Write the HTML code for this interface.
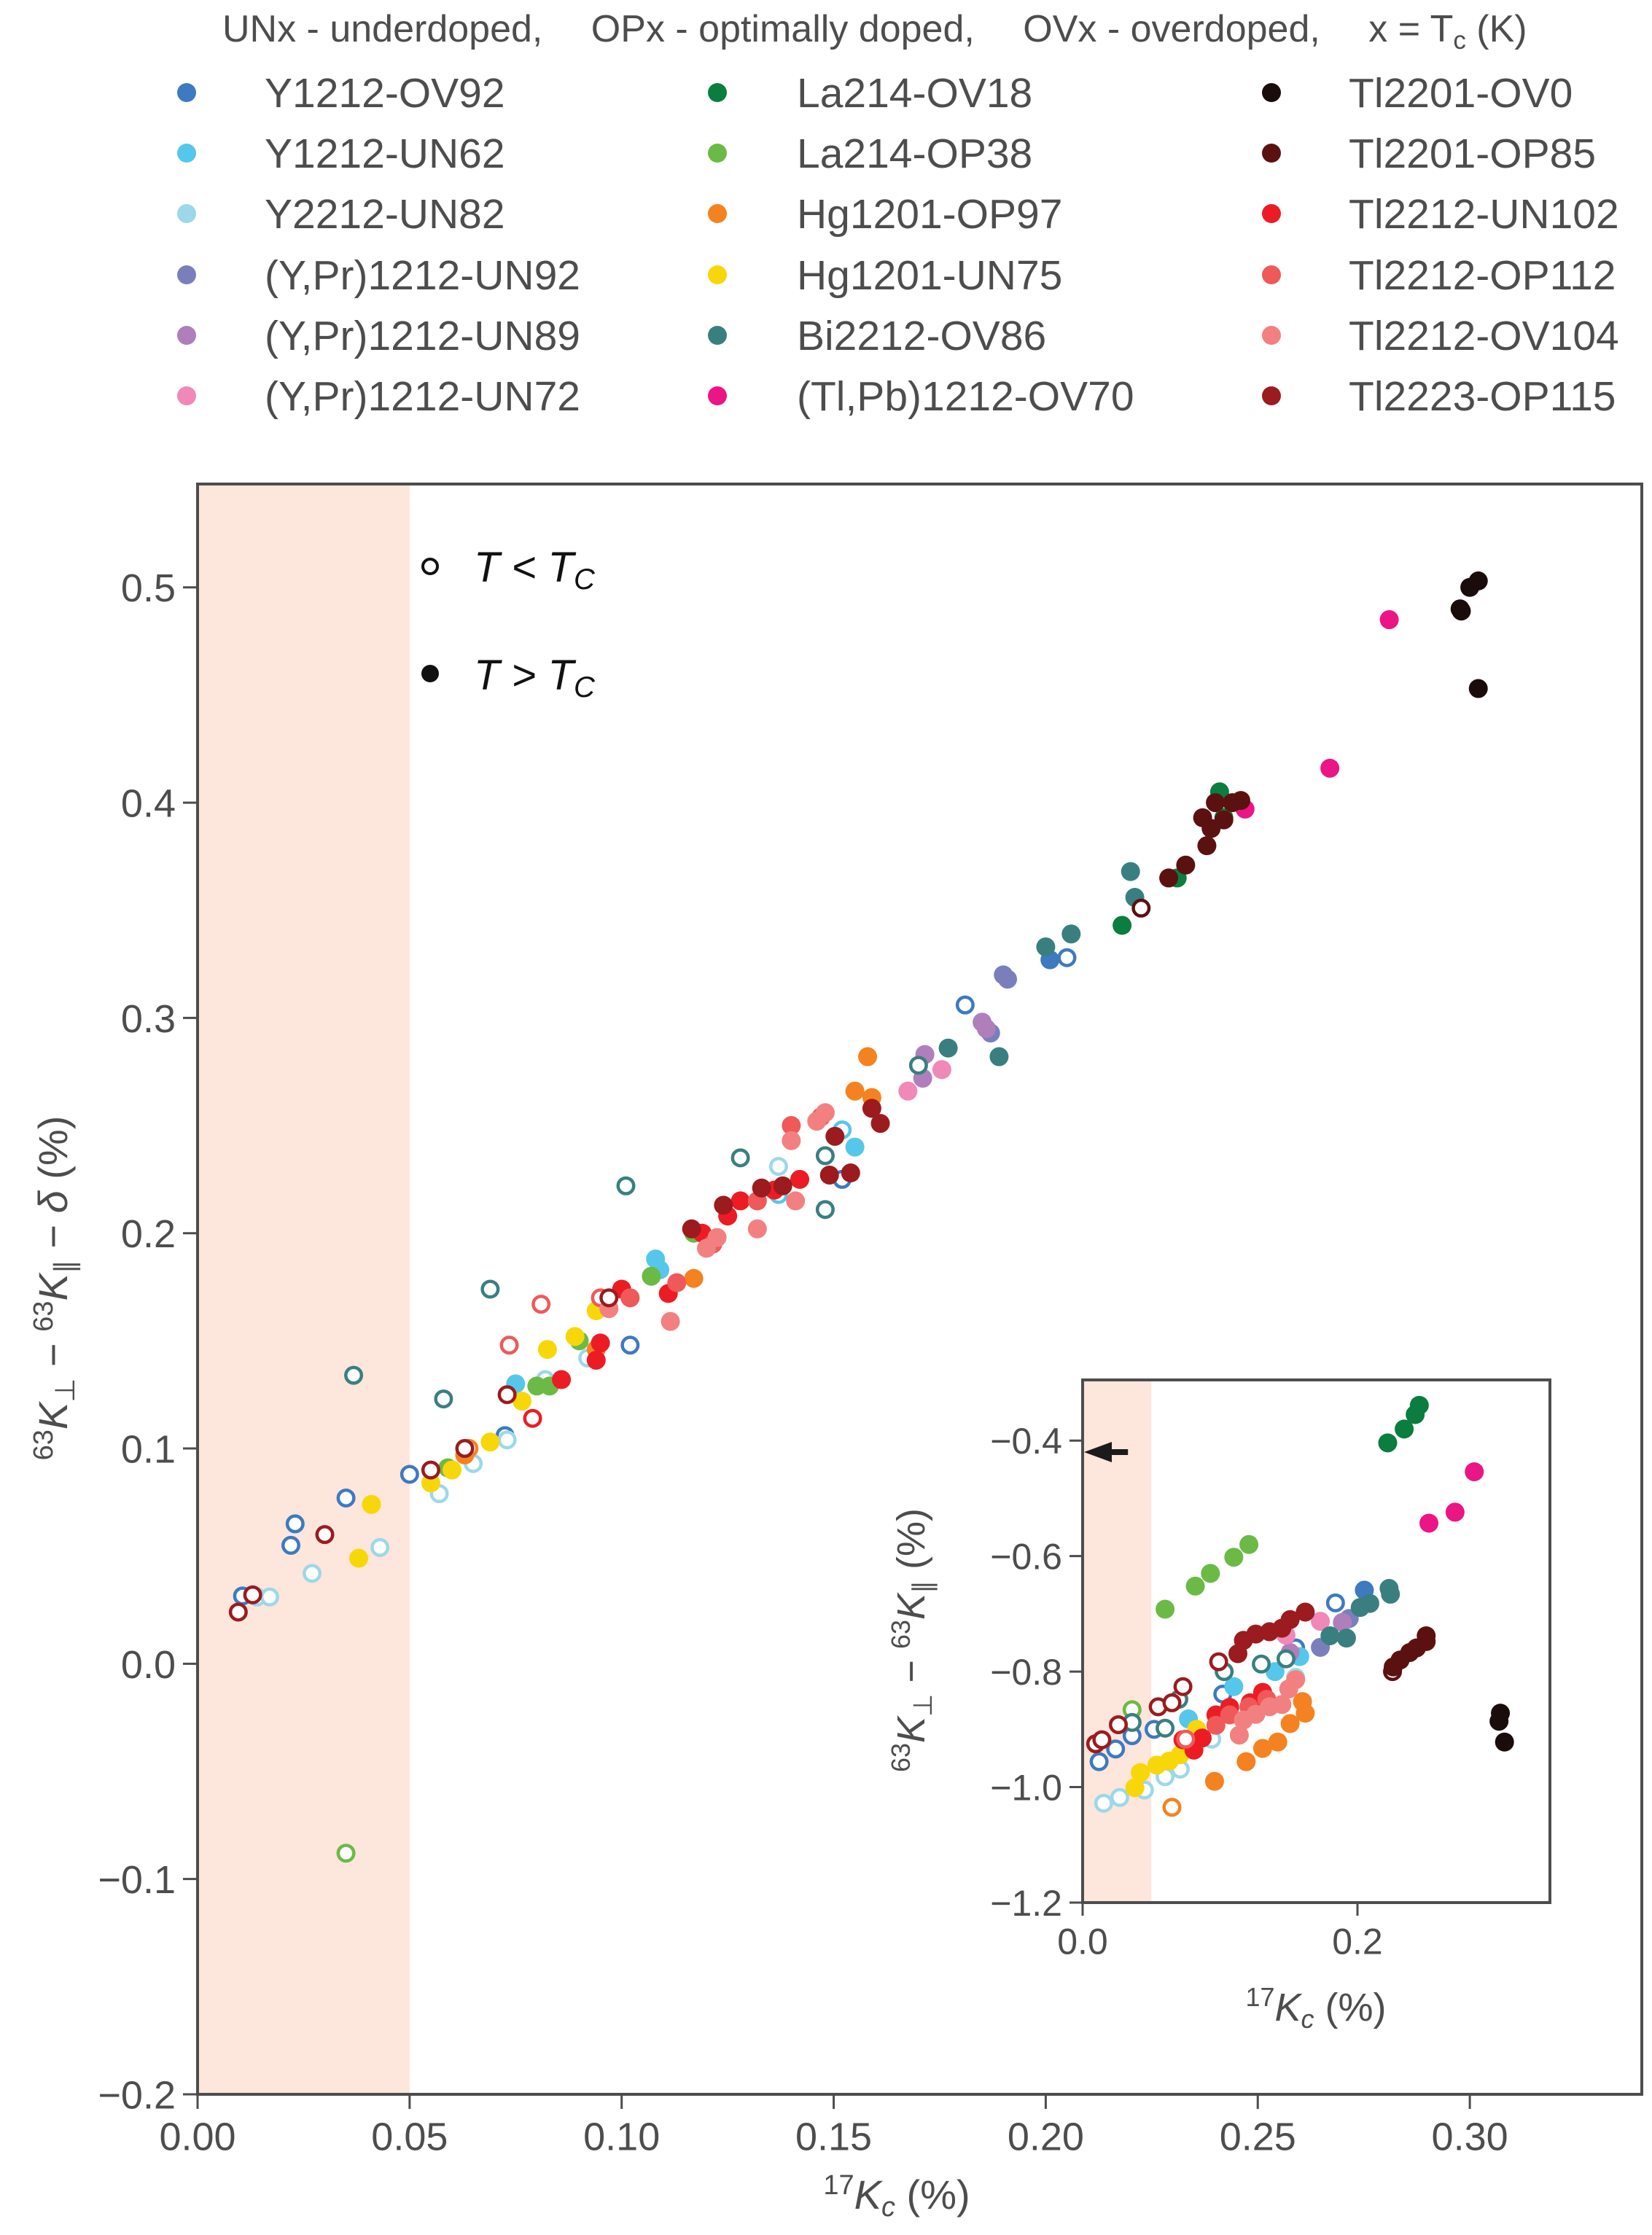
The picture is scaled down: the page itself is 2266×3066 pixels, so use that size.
<!DOCTYPE html>
<html><head><meta charset="utf-8"><style>
html,body{margin:0;padding:0;background:#fff}
svg{display:block;font-family:"Liberation Sans",sans-serif}
</style></head><body>
<svg id="chart" width="2266" height="3066" viewBox="0 0 2266 3066" xmlns="http://www.w3.org/2000/svg">
<g id="legend"></g>
<g id="main"></g>
<g id="inset"></g>
</svg>
<script>
const seriesNames=["Y1212-OV92","Y1212-UN62","Y2212-UN82","(Y,Pr)1212-UN92","(Y,Pr)1212-UN89","(Y,Pr)1212-UN72","La214-OV18","La214-OP38","Hg1201-OP97","Hg1201-UN75","Bi2212-OV86","(Tl,Pb)1212-OV70","Tl2201-OV0","Tl2201-OP85","Tl2212-UN102","Tl2212-OP112","Tl2212-OV104","Tl2223-OP115"];
const seriesColors=["#3d7ac0","#55c7ea","#9cd8e9","#7a7fbc","#ae7fbb","#f088b8","#0b7d3f","#6bba45","#f58220","#f7d70a","#3a7f7f","#eb1586","#1b0c0c","#5c1111","#ec1c24","#ef5959","#f38080","#9b1b1f"];
const mainXTicks=[0,0.05,0.10,0.15,0.20,0.25,0.30];
const mainXTickLabels=["0.00","0.05","0.10","0.15","0.20","0.25","0.30"];
const mainYTicks=[-0.2,-0.1,0,0.1,0.2,0.3,0.4,0.5];
const mainYTickLabels=["\u22120.2","\u22120.1","0.0","0.1","0.2","0.3","0.4","0.5"];
const insetXTicks=[0,0.2];
const insetXTickLabels=["0.0","0.2"];
const insetYTicks=[-1.2,-1.0,-0.8,-0.6,-0.4];
const insetYTickLabels=["\u22121.2","\u22121.0","\u22120.8","\u22120.6","\u22120.4"];
// main points: [x, y, open(1)/filled(0)]
const mainPoints=[
[[0.0106,0.0315,1],[0.023,0.065,1],[0.022,0.055,1],[0.035,0.077,1],[0.050,0.088,1],[0.0725,0.106,1],[0.102,0.148,1],[0.152,0.225,1],[0.181,0.306,1],[0.205,0.328,1],[0.201,0.327,0]],
[[0.075,0.13,0],[0.108,0.188,0],[0.155,0.24,0],[0.109,0.183,0],[0.152,0.248,1],[0.137,0.218,1]],
[[0.014,0.031,1],[0.017,0.031,1],[0.027,0.042,1],[0.043,0.054,1],[0.057,0.079,1],[0.065,0.093,1],[0.073,0.104,1],[0.082,0.132,1],[0.092,0.142,1],[0.137,0.231,1],[0.097,0.165,1]],
[[0.19,0.32,0],[0.187,0.293,0],[0.191,0.318,0]],
[[0.1715,0.283,0],[0.185,0.298,0],[0.171,0.272,0],[0.186,0.295,0]],
[[0.1675,0.266,0],[0.1755,0.276,0]],
[[0.218,0.343,0],[0.231,0.365,0],[0.241,0.405,0],[0.242,0.393,0]],
[[0.035,-0.088,1],[0.09,0.15,0],[0.08,0.129,0],[0.083,0.129,0],[0.059,0.091,0],[0.107,0.18,0],[0.117,0.2,0]],
[[0.094,0.146,0],[0.117,0.179,0],[0.155,0.266,0],[0.158,0.282,0],[0.159,0.263,0],[0.063,0.097,0],[0.064,0.1,1]],
[[0.041,0.074,0],[0.038,0.049,0],[0.055,0.084,0],[0.06,0.09,0],[0.069,0.103,0],[0.0765,0.122,0],[0.0825,0.146,0],[0.089,0.152,0],[0.094,0.164,0]],
[[0.0368,0.134,1],[0.058,0.123,1],[0.069,0.174,1],[0.101,0.222,1],[0.128,0.235,1],[0.17,0.278,1],[0.148,0.211,1],[0.148,0.236,1],[0.177,0.286,0],[0.189,0.282,0],[0.2,0.333,0],[0.206,0.339,0],[0.22,0.368,0],[0.221,0.356,0]],
[[0.281,0.485,0],[0.267,0.416,0],[0.247,0.397,0]],
[[0.2977,0.49,0],[0.3,0.5,0],[0.302,0.503,0],[0.298,0.489,0],[0.302,0.453,0]],
[[0.2225,0.351,1],[0.229,0.365,0],[0.233,0.371,0],[0.238,0.38,0],[0.239,0.388,0],[0.237,0.393,0],[0.24,0.4,0],[0.244,0.4,0],[0.242,0.392,0],[0.246,0.401,0]],
[[0.0858,0.132,0],[0.095,0.149,0],[0.1,0.174,0],[0.111,0.172,0],[0.125,0.208,0],[0.128,0.215,0],[0.136,0.22,0],[0.142,0.225,0],[0.094,0.141,0],[0.119,0.2,0],[0.079,0.114,1]],
[[0.0735,0.148,1],[0.081,0.167,1],[0.095,0.17,1],[0.102,0.17,0],[0.113,0.177,0],[0.1215,0.195,0],[0.132,0.215,0],[0.14,0.25,0],[0.147,0.254,0]],
[[0.097,0.165,0],[0.1115,0.159,0],[0.1225,0.198,0],[0.132,0.202,0],[0.141,0.215,0],[0.146,0.252,0],[0.148,0.256,0],[0.14,0.243,0],[0.12,0.193,0]],
[[0.0096,0.024,1],[0.013,0.032,1],[0.030,0.06,1],[0.055,0.09,1],[0.063,0.1,1],[0.073,0.125,1],[0.097,0.17,1],[0.1165,0.202,0],[0.124,0.213,0],[0.133,0.221,0],[0.149,0.227,0],[0.1503,0.245,0],[0.159,0.258,0],[0.161,0.251,0],[0.138,0.222,0],[0.154,0.228,0]]
];
const insetPoints=[
[[0.012,-0.956,1],[0.024,-0.934,1],[0.036,-0.911,1],[0.052,-0.9,1],[0.102,-0.839,1],[0.155,-0.759,1],[0.184,-0.681,1],[0.205,-0.659,0]],
[[0.077,-0.882,0],[0.11,-0.826,0],[0.14,-0.8,0],[0.158,-0.774,0]],
[[0.0153,-1.028,1],[0.027,-1.018,1],[0.045,-1.005,1],[0.06,-0.982,1],[0.071,-0.969,1],[0.094,-0.917,1],[0.155,-0.81,1]],
[[0.173,-0.758,0],[0.194,-0.708,0]],
[[0.151,-0.767,0],[0.189,-0.715,0]],
[[0.173,-0.713,0],[0.148,-0.737,0]],
[[0.222,-0.404,0],[0.234,-0.38,0],[0.242,-0.355,0],[0.245,-0.339,0]],
[[0.036,-0.866,1],[0.06,-0.692,0],[0.082,-0.652,0],[0.093,-0.63,0],[0.11,-0.602,0],[0.121,-0.58,0]],
[[0.096,-0.99,0],[0.119,-0.956,0],[0.131,-0.933,0],[0.142,-0.922,0],[0.151,-0.89,0],[0.162,-0.872,0],[0.16,-0.852,0],[0.065,-1.035,1]],
[[0.038,-1.001,0],[0.042,-0.975,0],[0.054,-0.962,0],[0.063,-0.955,0],[0.071,-0.944,0],[0.078,-0.918,0],[0.083,-0.9,0]],
[[0.036,-0.888,1],[0.06,-0.898,1],[0.07,-0.848,1],[0.103,-0.8,1],[0.13,-0.787,1],[0.148,-0.778,1],[0.18,-0.738,0],[0.192,-0.742,0],[0.202,-0.689,0],[0.209,-0.682,0],[0.223,-0.656,0],[0.224,-0.666,0]],
[[0.252,-0.543,0],[0.271,-0.524,0],[0.285,-0.454,0]],
[[0.304,-0.872,0],[0.303,-0.886,0],[0.307,-0.922,0]],
[[0.2255,-0.8,1],[0.226,-0.792,0],[0.231,-0.78,0],[0.238,-0.767,0],[0.243,-0.759,0],[0.25,-0.738,0],[0.25,-0.748,0]],
[[0.073,-0.918,1],[0.087,-0.915,0],[0.097,-0.875,0],[0.107,-0.862,0],[0.131,-0.836,0],[0.122,-0.854,0],[0.081,-0.936,0]],
[[0.075,-0.917,1],[0.097,-0.893,0],[0.107,-0.875,0],[0.121,-0.861,0],[0.134,-0.848,0]],
[[0.114,-0.91,0],[0.117,-0.884,0],[0.126,-0.874,0],[0.136,-0.861,0],[0.145,-0.857,0],[0.15,-0.83,0],[0.155,-0.814,0]],
[[0.0095,-0.925,1],[0.014,-0.918,1],[0.026,-0.892,1],[0.055,-0.861,1],[0.065,-0.854,1],[0.073,-0.826,1],[0.099,-0.783,1],[0.113,-0.769,0],[0.117,-0.746,0],[0.126,-0.735,0],[0.136,-0.731,0],[0.145,-0.725,0],[0.151,-0.71,0],[0.162,-0.697,0]]
];
const insetArrowY=-0.42;

const NS="http://www.w3.org/2000/svg";
const TXT="#4d4d4d";
function mk(tag,attrs,parent,text){const e=document.createElementNS(NS,tag);for(const k in attrs)e.setAttribute(k,attrs[k]);if(text!==undefined)e.textContent=text;parent.appendChild(e);return e;}

// ---- legend ----
const lg=document.getElementById('legend');
const hdr=mk('text',{x:305,y:57,'font-size':52,fill:TXT},lg);


hdr.innerHTML='UNx - underdoped,\u2003 OPx - optimally doped,\u2003 OVx - overdoped,\u2003 x = T<tspan font-size="35" dy="10">c</tspan><tspan dy="-10"> (K)</tspan>';
const colMX=[256,984,1744],colTX=[363,1093,1850],rowY=[127,210,293,377,460,543];
seriesNames.forEach((n,i)=>{
  const c=Math.floor(i/6),r=i%6;
  const g=mk('g',{},lg);
  
  
  mk('circle',{cx:colMX[c],cy:rowY[r],r:13,fill:seriesColors[i]},g);
  mk('text',{x:colTX[c],y:rowY[r]+20,'font-size':57,fill:TXT},g,n);
});

function drawAxes(group,o){
  const sx=v=>o.x0+(v-o.xmin)/(o.xmax-o.xmin)*(o.x1-o.x0);
  const sy=v=>o.y1-(v-o.ymin)/(o.ymax-o.ymin)*(o.y1-o.y0);
  const sh=mk('rect',{x:sx(0),y:o.y0,width:sx(0.05)-sx(0),height:o.y1-o.y0,fill:'#fde6dc'},group);
  
  
  return {sx,sy};
}
function drawPoints(group,pts,sx,sy,r,sw){
  pts.forEach((ser,i)=>{
    const g=mk('g',{},group);
    
    
    ser.forEach(p=>{
      const c=p[2]?mk('circle',{cx:sx(p[0]),cy:sy(p[1]),r:r-sw/2,fill:'#fff','stroke':seriesColors[i],'stroke-width':sw},g):mk('circle',{cx:sx(p[0]),cy:sy(p[1]),r:r,fill:seriesColors[i]},g);
      
      
    });
  });
}
function drawFrame(group,o,sx,sy,xt,xl,yt,yl,fs,lw){
  mk('rect',{x:o.x0,y:o.y0,width:o.x1-o.x0,height:o.y1-o.y0,fill:'none',stroke:TXT,'stroke-width':lw},group);
  const xa=mk('g',{},group);
  
  
  xt.forEach((v,k)=>{mk('line',{x1:sx(v),x2:sx(v),y1:o.y1,y2:o.y1+o.tl,stroke:TXT,'stroke-width':3},xa);
    mk('text',{x:sx(v),y:o.y1+o.tl+fs*1.05,'font-size':fs,fill:TXT,'text-anchor':'middle'},xa,xl[k]);});
  const ya=mk('g',{},group);
  
  
  yt.forEach((v,k)=>{mk('line',{x1:o.x0-o.tl,x2:o.x0,y1:sy(v),y2:sy(v),stroke:TXT,'stroke-width':3},ya);
    mk('text',{x:o.x0-o.tl-10,y:sy(v)+fs*0.36,'font-size':fs,fill:TXT,'text-anchor':'end'},ya,yl[k]);});
}

// ---- main ----
const M={x0:271,x1:2252,y0:664,y1:2873,xmin:0,xmax:(2252-271)/5817,ymin:-0.2,ymax:0.548,tl:20,pre:'main-'};
const mg=document.getElementById('main');
const ms=drawAxes(mg,M);
drawPoints(mg,mainPoints,ms.sx,ms.sy,13,4.5);
drawFrame(mg,M,ms.sx,ms.sy,mainXTicks,mainXTickLabels,mainYTicks,mainYTickLabels,54,4);
const il=mk('g',{},mg);


mk('circle',{cx:590,cy:777,r:10,fill:'#fff',stroke:'#111','stroke-width':4},il);
mk('circle',{cx:590,cy:924,r:12,fill:'#111'},il);
il.insertAdjacentHTML('beforeend','<text x="650" y="798" font-size="58" fill="#111" font-style="italic">T &lt; T<tspan font-size="40" dy="10">C</tspan></text><text x="650" y="946" font-size="58" fill="#111" font-style="italic">T &gt; T<tspan font-size="40" dy="10">C</tspan></text>');
mg.insertAdjacentHTML('beforeend','<text x="1230" y="3030" font-size="56" fill="'+TXT+'" text-anchor="middle"><tspan font-size="38" dy="-20">17</tspan><tspan font-style="italic" dy="20">K</tspan><tspan font-style="italic" font-size="38" dy="10">c</tspan><tspan dy="-10"> (%)</tspan></text>');
mg.insertAdjacentHTML('beforeend','<text transform="translate(92,1767) rotate(-90)" font-size="56" fill="'+TXT+'" text-anchor="middle"><tspan font-size="38" dy="-20">63</tspan><tspan font-style="italic" dy="20">K</tspan><tspan font-size="38" dy="10">\u22A5</tspan><tspan dy="-10"> \u2212 </tspan><tspan font-size="38" dy="-20">63</tspan><tspan font-style="italic" dy="20">K</tspan><tspan font-size="38" dy="10">\u2225</tspan><tspan dy="-10"> \u2212 </tspan><tspan font-style="italic">\u03B4</tspan><tspan> (%)</tspan></text>');

// ---- inset ----
const I={x0:1485,x1:2126,y0:1893,y1:2610,xmin:0,xmax:(2126-1485)/1885,ymin:-1.2,ymax:-0.295,tl:18,pre:'inset-'};
const ig=document.getElementById('inset');
mk('rect',{x:I.x0,y:I.y0,width:I.x1-I.x0,height:I.y1-I.y0,fill:'#fff'},ig);
const is=drawAxes(ig,I);
drawPoints(ig,insetPoints,is.sx,is.sy,13,4.5);
drawFrame(ig,I,is.sx,is.sy,insetXTicks,insetXTickLabels,insetYTicks,insetYTickLabels,50,4);
const ar=mk('g',{},ig);


mk('line',{x1:is.sx(0.033),x2:is.sx(0.012),y1:is.sy(insetArrowY),y2:is.sy(insetArrowY),stroke:'#1b1b1b','stroke-width':8},ar);
mk('polygon',{points:`${I.x0+2},${is.sy(insetArrowY)} ${I.x0+40},${is.sy(insetArrowY)-14} ${I.x0+40},${is.sy(insetArrowY)+14}`,fill:'#1b1b1b'},ar);
ig.insertAdjacentHTML('beforeend','<text x="1805" y="2772" font-size="54" fill="'+TXT+'" text-anchor="middle"><tspan font-size="36" dy="-20">17</tspan><tspan font-style="italic" dy="20">K</tspan><tspan font-style="italic" font-size="36" dy="10">c</tspan><tspan dy="-10"> (%)</tspan></text>');
ig.insertAdjacentHTML('beforeend','<text transform="translate(1268,2250) rotate(-90)" font-size="54" fill="'+TXT+'" text-anchor="middle"><tspan font-size="36" dy="-20">63</tspan><tspan font-style="italic" dy="20">K</tspan><tspan font-size="36" dy="10">\u22A5</tspan><tspan dy="-10"> \u2212 </tspan><tspan font-size="36" dy="-20">63</tspan><tspan font-style="italic" dy="20">K</tspan><tspan font-size="36" dy="10">\u2225</tspan><tspan dy="-10"> (%)</tspan></text>');
</script>
</body></html>
